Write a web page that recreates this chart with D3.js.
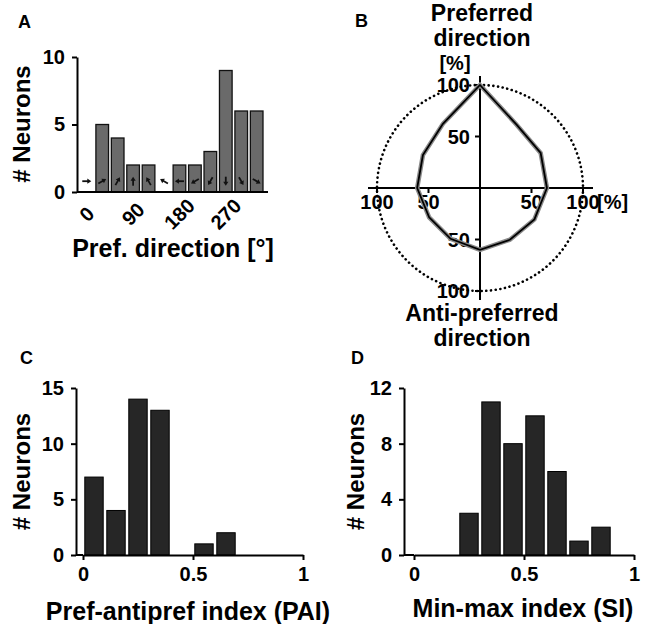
<!DOCTYPE html>
<html>
<head>
<meta charset="utf-8">
<script src="https://cdn.jsdelivr.net/npm/d3@7"></script>
<style>
  body { margin: 0; background: #fff; }
  text { font-family: "Liberation Sans", Arial, sans-serif; font-weight: bold; fill: #000; }
</style>
</head>
<body>
<div id="chart"></div>
<script>
// A: preferred direction histogram
const dirBins = [0, 30, 60, 90, 120, 150, 180, 210, 240, 270, 300, 330];
const dirCounts = [0, 5, 4, 2, 2, 0, 2, 2, 3, 9, 6, 6];
const dirTicks = [0, 90, 180, 270];
const dirYTicks = [0, 5, 10];

// B: population tuning curve (% of max), angle 0 = preferred
const tuneAngles = [0, 30, 60, 90, 120, 150, 180, 210, 240, 270, 300, 330];
const tunePct = [100, 71, 68, 65, 61, 58, 60, 57, 57, 61, 64, 72];
const polarTicks = [50, 100];

// C: pref-antipref index
const paiBins = [0, 0.1, 0.2, 0.3, 0.4, 0.5, 0.6, 0.7, 0.8, 0.9];
const paiCounts = [7, 4, 14, 13, 0, 1, 2, 0, 0, 0];
const paiYTicks = [0, 5, 10, 15];

// D: min-max index
const siBins = [0, 0.1, 0.2, 0.3, 0.4, 0.5, 0.6, 0.7, 0.8, 0.9];
const siCounts = [0, 0, 3, 11, 8, 10, 6, 1, 2, 0];
const siYTicks = [0, 4, 8, 12];

const idxTicks = [0, 0.5, 1];

const W = 645, H = 624;
const svg = d3.select("#chart").append("svg")
  .attr("width", W).attr("height", H);

function styleAxis(g) {
  g.selectAll("path.domain").attr("stroke", "#000").attr("stroke-width", 2);
  g.selectAll(".tick line").attr("stroke", "#000").attr("stroke-width", 2);
  g.selectAll(".tick text")
    .attr("font-family", "Liberation Sans, Arial, sans-serif")
    .attr("font-weight", "bold")
    .attr("font-size", 20)
    .attr("fill", "#000");
}

function yLabel(x, y, txt) {
  svg.append("text")
    .attr("transform", `translate(${x},${y}) rotate(-90)`)
    .attr("text-anchor", "middle")
    .attr("font-size", 24)
    .text(txt);
}

function panelLetter(x, y, txt) {
  svg.append("text").attr("x", x).attr("y", y)
    .attr("font-size", 18).text(txt);
}

// ---------- Panel A ----------
const xA = d3.scaleLinear().domain([-19, 352]).range([77, 268]);
const yA = d3.scaleLinear().domain([0, 10]).range([192, 57]);
const binW = xA(30) - xA(0);

const gA = svg.append("g");
gA.selectAll("rect")
  .data(dirBins.map((b, i) => ({ b, v: dirCounts[i] })).filter(d => d.v > 0))
  .enter().append("rect")
  .attr("x", d => xA(d.b) - binW / 2 + 1.4)
  .attr("width", binW - 2.8)
  .attr("y", d => yA(d.v))
  .attr("height", d => yA(0) - yA(d.v))
  .attr("fill", "#6a6a6a")
  .attr("stroke", "#111")
  .attr("stroke-width", 1.3);

// little direction arrows inside each bin
const arrowLen = 9;
const arrows = gA.selectAll("g.arrow")
  .data(dirBins)
  .enter().append("g")
  .attr("class", "arrow")
  .attr("transform", d => `translate(${xA(d)},${yA(0.8)}) rotate(${-d})`);
arrows.append("line")
  .attr("x1", -arrowLen / 2).attr("x2", arrowLen / 2 - 3)
  .attr("y1", 0).attr("y2", 0)
  .attr("stroke", "#111").attr("stroke-width", 1.8);
arrows.append("path")
  .attr("d", `M${arrowLen / 2},0 L${arrowLen / 2 - 4},-2.6 L${arrowLen / 2 - 4},2.6 Z`)
  .attr("fill", "#111");

gA.append("g")
  .attr("transform", `translate(${xA(-19)},0)`)
  .call(d3.axisLeft(yA).tickValues(dirYTicks).tickSize(5).tickPadding(7).tickSizeOuter(0))
  .call(styleAxis);

gA.append("line")
  .attr("x1", xA(-19)).attr("x2", xA(352))
  .attr("y1", yA(0)).attr("y2", yA(0))
  .attr("stroke", "#000").attr("stroke-width", 2);

gA.selectAll("text.dtick")
  .data(dirTicks)
  .enter().append("text")
  .attr("class", "dtick")
  .attr("transform", d => `translate(${xA(d)},${yA(0) + 22}) rotate(-45)`)
  .attr("text-anchor", "middle")
  .attr("dominant-baseline", "central")
  .attr("font-size", 20)
  .text(d => d);

svg.append("text").attr("x", 173).attr("y", 257)
  .attr("text-anchor", "middle").attr("font-size", 25)
  .text("Pref. direction [°]");
yLabel(30, 124, "# Neurons");
panelLetter(18, 28, "A");

// ---------- Panel B ----------
const cx = 480, cy = 188;
const rB = d3.scaleLinear().domain([0, 100]).range([0, 103]);
const gB = svg.append("g").attr("transform", `translate(${cx},${cy})`);

gB.append("circle")
  .attr("r", rB(100))
  .attr("fill", "none")
  .attr("stroke", "#000")
  .attr("stroke-width", 2.6)
  .attr("stroke-dasharray", "0.1 4.6")
  .attr("stroke-linecap", "round");

// axes
gB.append("line").attr("x1", -112).attr("x2", 113).attr("y1", 0).attr("y2", 0)
  .attr("stroke", "#000").attr("stroke-width", 2);
gB.append("line").attr("x1", 0).attr("x2", 0).attr("y1", -112).attr("y2", 112)
  .attr("stroke", "#000").attr("stroke-width", 2);

const polarTickData = polarTicks.flatMap(t => [t, -t]);
gB.selectAll("line.vt").data(polarTickData).enter().append("line")
  .attr("x1", -5).attr("x2", 0)
  .attr("y1", d => -Math.sign(d) * rB(Math.abs(d)))
  .attr("y2", d => -Math.sign(d) * rB(Math.abs(d)))
  .attr("stroke", "#000").attr("stroke-width", 2);
gB.selectAll("line.ht").data(polarTickData).enter().append("line")
  .attr("y1", 0).attr("y2", 5)
  .attr("x1", d => Math.sign(d) * rB(Math.abs(d)))
  .attr("x2", d => Math.sign(d) * rB(Math.abs(d)))
  .attr("stroke", "#000").attr("stroke-width", 2);

gB.selectAll("text.vl").data(polarTickData).enter().append("text")
  .attr("x", -10)
  .attr("y", d => -Math.sign(d) * rB(Math.abs(d)))
  .attr("text-anchor", "end")
  .attr("dominant-baseline", "central")
  .attr("font-size", 20)
  .text(d => Math.abs(d));
gB.selectAll("text.hl").data(polarTickData).enter().append("text")
  .attr("x", d => Math.sign(d) * rB(Math.abs(d)))
  .attr("y", 21)
  .attr("text-anchor", "middle")
  .attr("font-size", 20)
  .text(d => Math.abs(d));

gB.append("text").attr("x", 117).attr("y", 21).attr("font-size", 20).text("[%]");
gB.append("text").attr("x", -25).attr("y", -118).attr("text-anchor", "middle")
  .attr("font-size", 20).text("[%]");

const radial = d3.lineRadial()
  .angle(d => d.a * Math.PI / 180)
  .radius(d => rB(d.v))
  .curve(d3.curveLinearClosed);
const tuneData = tuneAngles.map((a, i) => ({ a, v: tunePct[i] }));
gB.append("path").attr("d", radial(tuneData))
  .attr("fill", "none").attr("stroke", "#8a8a8a").attr("stroke-width", 4.5);
gB.append("path").attr("d", radial(tuneData))
  .attr("fill", "none").attr("stroke", "#000").attr("stroke-width", 1.8);

function twoLines(y, l1, l2) {
  svg.append("text").attr("x", cx + 2).attr("y", y)
    .attr("text-anchor", "middle").attr("font-size", 23).text(l1);
  svg.append("text").attr("x", cx + 2).attr("y", y + 25)
    .attr("text-anchor", "middle").attr("font-size", 23).text(l2);
}
twoLines(21, "Preferred", "direction");
twoLines(321, "Anti-preferred", "direction");
panelLetter(355, 27, "B");

// ---------- Histograms C and D ----------
function histPanel(opt) {
  const x = d3.scaleLinear().domain([0, 1]).range(opt.xr);
  const y = d3.scaleLinear().domain([0, opt.ymax]).range(opt.yr);
  const g = svg.append("g");
  const bw = x(0.1) - x(0);
  g.selectAll("rect")
    .data(opt.bins.map((b, i) => ({ b, v: opt.counts[i] })).filter(d => d.v > 0))
    .enter().append("rect")
    .attr("x", d => x(d.b) + 1.8)
    .attr("width", bw - 3.6)
    .attr("y", d => y(d.v))
    .attr("height", d => y(0) - y(d.v))
    .attr("fill", "#262626")
    .attr("stroke", "#000")
    .attr("stroke-width", 1);
  g.append("g")
    .attr("transform", `translate(${opt.ax},0)`)
    .call(d3.axisLeft(y).tickValues(opt.yticks).tickSize(5).tickPadding(7).tickSizeOuter(0))
    .call(styleAxis);
  g.append("g")
    .attr("transform", `translate(0,${y(0)})`)
    .call(d3.axisBottom(x).tickValues(idxTicks).tickFormat(d3.format("~g"))
      .tickSize(5).tickPadding(7).tickSizeOuter(0))
    .call(styleAxis);
  g.append("line")
    .attr("x1", opt.ax).attr("x2", x(0))
    .attr("y1", y(0)).attr("y2", y(0))
    .attr("stroke", "#000").attr("stroke-width", 2);
  svg.append("text").attr("x", opt.lx).attr("y", opt.ly)
    .attr("text-anchor", "middle").attr("font-size", 25).text(opt.label);
  yLabel(opt.yx, (opt.yr[0] + opt.yr[1]) / 2, "# Neurons");
}

histPanel({
  bins: paiBins, counts: paiCounts, yticks: paiYTicks, ymax: 15,
  xr: [83, 303], yr: [555, 388], ax: 76,
  label: "Pref-antipref index (PAI)", lx: 188, ly: 620, yx: 30
});
panelLetter(20, 364, "C");

histPanel({
  bins: siBins, counts: siCounts, yticks: siYTicks, ymax: 12,
  xr: [414, 634], yr: [555, 388], ax: 404,
  label: "Min-max index (SI)", lx: 523, ly: 617, yx: 364
});
panelLetter(351, 364, "D");
</script>
</body>
</html>
